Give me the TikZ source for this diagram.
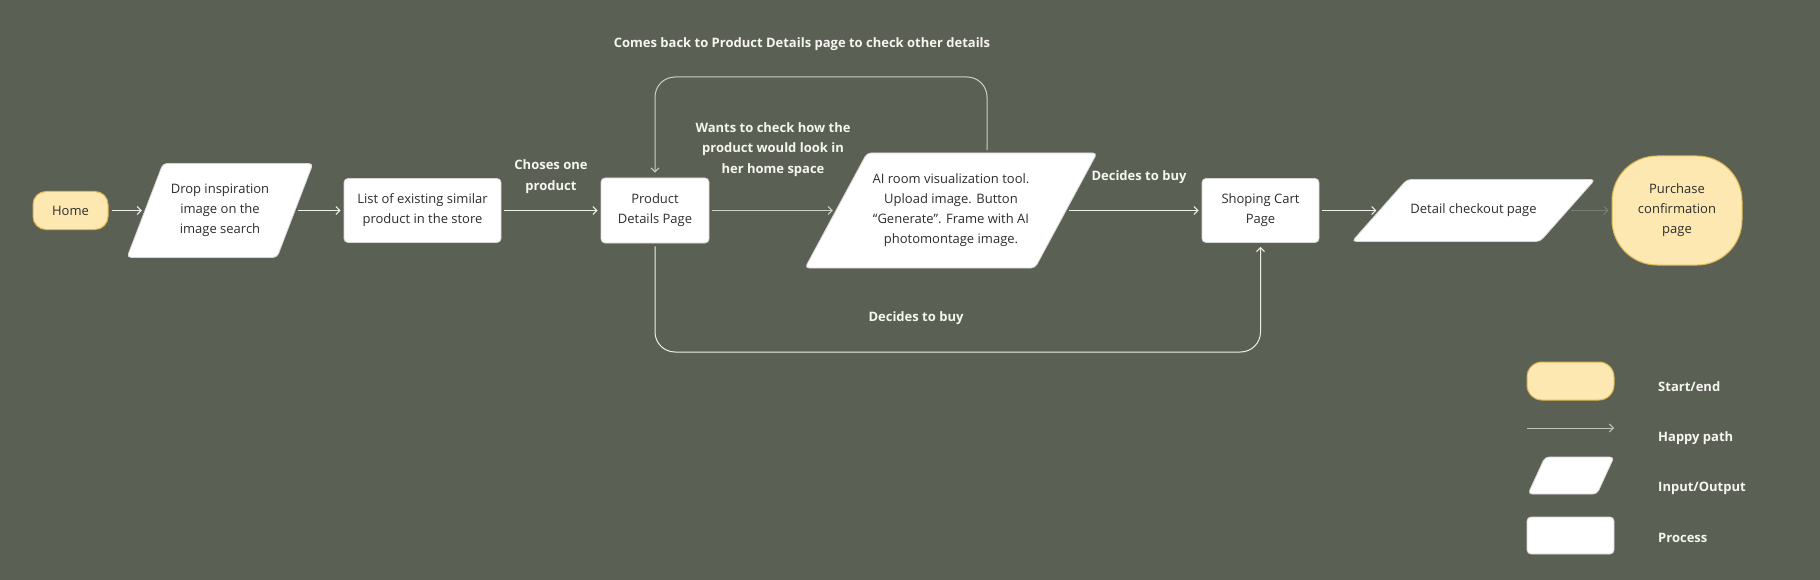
\documentclass[tikz,border=0pt]{standalone}
\usepackage{fontspec}
\setmainfont{Open Sans}
\usetikzlibrary{calc,arrows.meta}
\definecolor{bg}{RGB}{91,96,85}
\definecolor{txtc}{RGB}{45,45,45}
\definecolor{lblc}{RGB}{246,246,240}
\definecolor{boxline}{RGB}{215,215,210}
\definecolor{termfill}{RGB}{253,232,178}
\definecolor{termline}{RGB}{222,183,80}
\definecolor{linec}{RGB}{238,238,232}
\definecolor{loopc}{RGB}{205,207,198}
\definecolor{faint}{RGB}{122,127,115}
\definecolor{legline}{RGB}{192,195,184}
% name, cx, cy, total width, height, slant, text
\newcommand{\iopara}[7]{%
  \draw[iofill] ({#2-#4/2+#6},{#3-#5/2}) -- ({#2+#4/2},{#3-#5/2}) -- ({#2+#4/2-#6},{#3+#5/2}) -- ({#2-#4/2},{#3+#5/2}) -- cycle;
  \node[boxtxt, minimum width={(#4-#6)*1pt}, minimum height={#5*1pt}] (#1) at (#2,#3) {#7};
}
\begin{document}
\begin{tikzpicture}[x=1pt,y=-1pt,
  every node/.style={inner sep=0pt},
  boxtxt/.style={font=\fontsize{13}{20}\selectfont, text=txtc, align=center},
  proc/.style={boxtxt, draw=boxline, fill=white, rounded corners=4pt, line width=0.8pt},
  term/.style={boxtxt, draw=termline, fill=termfill, line width=1pt},
  iofill/.style={draw=boxline, fill=white, rounded corners=4pt, line width=0.8pt},
  lbl/.style={font=\bfseries\fontsize{13}{20.5}\selectfont, text=lblc, align=center},
  conn/.style={draw=linec, line width=1pt, -{Straight Barb[length=4pt,width=8pt]}, shorten >=3pt, shorten <=3pt},
  ]
\fill[bg] (0,0) rectangle (1820,580);
\useasboundingbox (0,0) rectangle (1820,580);

% main flow
\node[term, rounded corners=13pt, minimum width=75pt, minimum height=38pt] (home) at (70.5,210.5) {Home};
\iopara{p1}{220}{210.5}{186}{94}{36}{Drop inspiration\\image on the\\image search}
\node[proc, minimum width=157pt, minimum height=64pt] (list) at (422.5,210.5) {List of existing similar\\product in the store};
\node[proc, minimum width=108pt, minimum height=65pt] (pdp) at (655,210.5) {Product\\Details Page};
\iopara{ai}{951}{210.5}{292}{115}{62}{AI room visualization tool.\\Upload image. Button\\“Generate”. Frame with AI\\photomontage image.}
\node[proc, minimum width=117pt, minimum height=64pt] (cart) at (1260.5,210.5) {Shoping Cart\\Page};
\iopara{chk}{1473.5}{210.5}{243}{62}{55}{Detail checkout page}
\node[term, rounded corners=45pt, minimum width=130pt, minimum height=109pt] (purch) at (1677,210.5) {Purchase\\confirmation\\page};

% connectors
\draw[conn] (home.east) -- (p1.west);
\draw[conn] (p1.east) -- (list.west);
\draw[conn] (list.east) -- (pdp.west);
\draw[conn, draw=loopc] (pdp.east) -- (ai.west);
\draw[conn] (ai.east) -- (cart.west);
\draw[conn] (cart.east) -- (chk.west);
\draw[conn, draw=faint] (chk.east) -- (purch.west);

\coordinate (tr) at (987,77);
\coordinate (tl) at (655,77);
\draw[conn, draw=loopc, rounded corners=20pt, shorten <=0pt, shorten >=5pt] ([shift={(36,-3)}]ai.north) -- (tr) -- (tl) -- (pdp.north);
\coordinate (bl) at (655,352);
\coordinate (br) at (1260.5,352);
\draw[conn, rounded corners=20pt, shorten >=4pt] (pdp.south) -- (bl) -- (br) -- (cart.south);

% labels
\node[lbl] (lchoose) at (551,176.5) {Choses one\\product};
\node[lbl] (lcomes) at (802,44) {Comes back to Product Details page to check other details};
\node[lbl] (lwants) at (773,149.5) {Wants to check how the\\product would look in\\her home space};
\node[lbl] (ldec1) at (1139,177) {Decides to buy};
\node[lbl] (ldec2) at (916,318) {Decides to buy};

% legend
\node[term, rounded corners=15pt, minimum width=87pt, minimum height=38pt] (lse) at (1570.5,381) {};
\node[lbl, anchor=west] (lset) at (1658,387) {Start/end};
\coordinate (hp1) at (1527,428);
\coordinate (hp2) at (1614,428);
\draw[conn, draw=legline, shorten <=0pt, shorten >=0pt] (hp1) -- (hp2);
\node[lbl, anchor=west] (lhpt) at (1658,438) {Happy path};
\iopara{lio}{1571}{475.5}{86}{37}{17}{}
\node[lbl, anchor=west] (liot) at (1658,488) {Input/Output};
\node[proc, minimum width=87pt, minimum height=37pt] (lpr) at (1570.5,535.5) {};
\node[lbl, anchor=west] (lprt) at (1658,538) {Process};
\end{tikzpicture}
\end{document}
